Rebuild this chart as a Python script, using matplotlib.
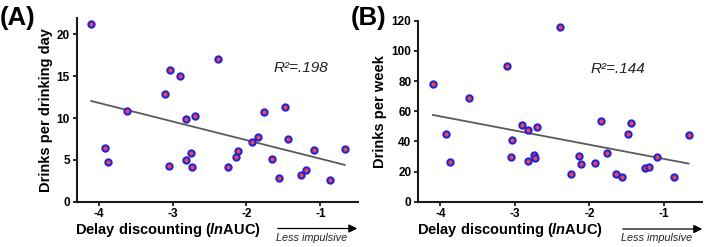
import numpy as np
import matplotlib
matplotlib.use("Agg")
import matplotlib.pyplot as plt

plt.rcParams['font.family'] = ['Liberation Sans', 'DejaVu Sans']
plt.rcParams['mathtext.fontset'] = 'custom'
plt.rcParams['mathtext.it'] = 'Liberation Sans:italic:bold'
plt.rcParams['mathtext.rm'] = 'Liberation Sans:bold'

# Data
delay_lnauc = [-4.10, -3.92, -3.87, -3.62, -3.10, -3.04, -3.05, -2.90, -2.82, -2.70,
               -2.82, -2.75, -2.73, -2.39, -2.25, -2.14, -2.11, -1.92, -1.84, -1.76,
               -1.65, -1.56, -1.48, -1.44, -1.26, -1.20, -1.09, -0.87, -0.67]
drinks_per_day = [21.25, 6.42, 4.78, 10.85, 12.92, 15.72, 4.31, 15.07, 9.89, 10.29,
                  4.99, 5.79, 4.19, 17.11, 4.11, 5.38, 6.03, 7.18, 7.70, 10.69,
                  5.11, 2.80, 11.33, 7.54, 3.19, 3.83, 6.22, 2.60, 6.30]
drinks_per_week = [78.3, 44.7, 26.1, 69.0, 89.8, 40.7, 29.8, 51.1, 47.3, 49.3,
                   26.8, 30.8, 29.0, 116.0, 18.2, 30.1, 24.8, 25.7, 53.3, 32.1,
                   18.4, 16.4, 44.9, 52.2, 22.1, 23.0, 29.6, 16.4, 44.4]
x_ticks = [-4, -3, -2, -1]
yticks_a = [0, 5, 10, 15, 20]
yticks_b = [0, 20, 40, 60, 80, 100, 120]
r2_a = "R\u00b2=.198"
r2_b = "R\u00b2=.144"

W, H = 709, 247
fig = plt.figure(figsize=(W / 100, H / 100), dpi=100)

def px_rect(l, r, t, b):
    return [l / W, 1 - b / H, (r - l) / W, (b - t) / H]

axA = fig.add_axes(px_rect(76.5, 358, 17.6, 201.7))
axB = fig.add_axes(px_rect(418, 702, 20.7, 201.7))

face = '#f0483c'
edge = '#2222dd'
spine_c = '#1a1a1a'

def style(ax, y, yticks, ylim, ylabel, r2, r2pos):
    x = np.array(delay_lnauc)
    yv = np.array(y)
    slope, inter = np.polyfit(x, yv, 1)
    xs = np.array([x.min(), x.max()])
    ax.plot(xs, slope * xs + inter, color='#5a5a5a', lw=1.3, zorder=2)
    ax.plot(x, yv, 'o', ms=4.5, mfc=face, mec=edge, mew=1.5, zorder=3)
    ax.set_xlim(-4.3, -0.49)
    ax.set_ylim(*ylim)
    ax.set_xticks(x_ticks)
    ax.set_xticklabels([str(t) for t in x_ticks])
    ax.set_yticks(yticks)
    for s in ['top', 'right']:
        ax.spines[s].set_visible(False)
    for s in ['left', 'bottom']:
        ax.spines[s].set_linewidth(1.5)
        ax.spines[s].set_color(spine_c)
    ax.tick_params(axis='both', width=1.3, length=3.2, color=spine_c,
                   labelsize=8.5, pad=1.5)
    for lab in ax.get_xticklabels() + ax.get_yticklabels():
        lab.set_fontweight('bold')
    ax.set_ylabel(ylabel, fontsize=10.5, fontweight='bold', labelpad=3)
    ax.text(r2pos[0], r2pos[1], r2, fontsize=11, style='italic',
            va='center', ha='left', color='#222222')

style(axA, drinks_per_day, yticks_a, (0, 22), 'Drinks per drinking day', r2_a, (-1.64, 16.0))
style(axB, drinks_per_week, yticks_b, (0, 120), 'Drinks per week', r2_b, (-1.99, 87.8))

xlabel = r'Delay discounting ($\mathit{ln}$AUC)'
for lx in (75, 417):
    fig.text(lx / W, 1 - 233.5 / H, xlabel, fontsize=10.5, fontweight='bold',
             ha='left', va='baseline')

for (x0, x1, y) in ((275, 360, 228.5), (620, 705, 229)):
    fig.add_artist(matplotlib.patches.FancyArrowPatch(
        (x0 / W, 1 - y / H), (x1 / W, 1 - y / H), transform=fig.transFigure,
        arrowstyle='-|>,head_length=5,head_width=2.5', color='black', lw=0.9,
        mutation_scale=1))
    fig.text((x0 + 1) / W, 1 - 241 / H, 'Less impulsive', fontsize=7.8,
             style='italic', ha='left', va='baseline', color='#222222')

fig.text(0 / W, 1 - 25 / H, '(A)', fontsize=18.5, fontweight='bold', va='baseline')
fig.text(351 / W, 1 - 25 / H, '(B)', fontsize=18.5, fontweight='bold', va='baseline')

fig.savefig('out.png', dpi=100)
